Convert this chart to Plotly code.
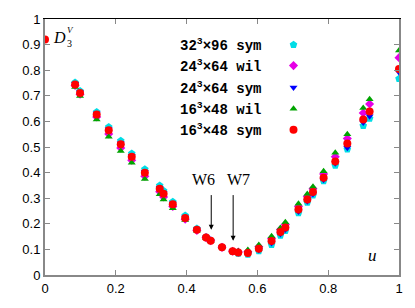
import plotly.graph_objects as go

# ---------------- data ----------------
u_red = [0.0, 0.085, 0.099, 0.146, 0.180, 0.214, 0.245, 0.282, 0.324, 0.335, 0.361, 0.396,
         0.429, 0.455, 0.468, 0.500, 0.530, 0.546, 0.573, 0.604, 0.640, 0.665, 0.679, 0.716,
         0.741, 0.757, 0.787, 0.820, 0.854, 0.899, 0.917, 1.000]
s16_48_sym = [0.920, 0.744, 0.711, 0.627, 0.565, 0.511, 0.462, 0.399, 0.337, 0.317, 0.276, 0.223,
              0.177, 0.146, 0.134, 0.108, 0.093, 0.088, 0.086, 0.103, 0.133, 0.168, 0.186, 0.256,
              0.295, 0.324, 0.380, 0.443, 0.514, 0.607, 0.639, 0.805]

u_other = [0.085, 0.099, 0.146, 0.180, 0.214, 0.245, 0.282, 0.324, 0.335, 0.361, 0.396,
           0.429, 0.455, 0.468, 0.500, 0.530, 0.546, 0.573, 0.604, 0.640, 0.665, 0.679, 0.716,
           0.741, 0.757, 0.787, 0.820, 0.854, 0.899, 0.917, 1.000]
s32_96_sym = [0.752, 0.719, 0.637, 0.578, 0.524, 0.475, 0.413, 0.350, 0.329, 0.286, 0.232,
              0.182, 0.148, 0.136, 0.108, 0.091, 0.084, 0.080, 0.094, 0.118, 0.154, 0.173, 0.242,
              0.283, 0.311, 0.367, 0.428, 0.491, 0.583, 0.611, 0.767]
s24_64_wil = [0.740, 0.706, 0.617, 0.551, 0.496, 0.448, 0.386, 0.325, 0.305, 0.268, 0.218,
              0.174, 0.146, 0.134, 0.108, 0.093, 0.090, 0.091, 0.110, 0.143, 0.178, 0.197, 0.268,
              0.307, 0.337, 0.395, 0.462, 0.533, 0.633, 0.668, 0.849]
s24_64_sym = [0.747, 0.714, 0.631, 0.569, 0.515, 0.466, 0.403, 0.341, 0.321, 0.279, 0.225,
              0.178, 0.146, 0.134, 0.108, 0.092, 0.086, 0.083, 0.098, 0.125, 0.160, 0.178, 0.248,
              0.288, 0.316, 0.372, 0.437, 0.497, 0.596, 0.620, 0.792]
s16_48_wil = [0.734, 0.699, 0.607, 0.540, 0.484, 0.438, 0.375, 0.315, 0.295, 0.261, 0.215,
              0.173, 0.144, 0.132, 0.108, 0.095, 0.093, 0.098, 0.117, 0.151, 0.184, 0.206, 0.278,
              0.316, 0.345, 0.405, 0.478, 0.550, 0.652, 0.687, 0.877]

legend_labels = ["32<sup>3</sup>\u00d796 sym", "24<sup>3</sup>\u00d764 wil", "24<sup>3</sup>\u00d764 sym",
                 "16<sup>3</sup>\u00d748 wil", "16<sup>3</sup>\u00d748 sym"]
x_ticks = [0, 0.2, 0.4, 0.6, 0.8, 1]
x_ticklabels = ["0", "0.2", "0.4", "0.6", "0.8", "1"]
y_ticks = [0, 0.1, 0.2, 0.3, 0.4, 0.5, 0.6, 0.7, 0.8, 0.9, 1]
y_ticklabels = ["0", "0.1", "0.2", "0.3", "0.4", "0.5", "0.6", "0.7", "0.8", "0.9", "1"]

# ---------------- styles ----------------
series = [
    (u_other, s32_96_sym, "#00dde6", "pentagon", 8),
    (u_other, s24_64_wil, "#e600e6", "diamond", 7),
    (u_other, s24_64_sym, "#0000ff", "triangle-down", 7),
    (u_other, s16_48_wil, "#00a400", "triangle-up", 7),
    (u_red, s16_48_sym, "#ff0000", "circle", 8),
]

fig = go.Figure()
for (xs, ys, col, sym, sz), lab in zip(series, legend_labels):
    fig.add_trace(go.Scatter(x=xs, y=ys, mode="markers", name=lab,
                             marker=dict(color=col, symbol=sym, size=sz, line=dict(width=0)),
                             showlegend=False))

# legend keys (gnuplot style: text then symbol), positioned on an overlay axis in [0,1]
key_y = [0.899, 0.818, 0.732, 0.649, 0.567]
for (xs, ys, col, sym, sz), lab, ky in zip(series, legend_labels, key_y):
    fig.add_trace(go.Scatter(x=[0.702], y=[ky], mode="markers", xaxis="x2", yaxis="y2",
                             marker=dict(color=col, symbol=sym, size=sz, line=dict(width=0)),
                             showlegend=False, hoverinfo="skip"))
    fig.add_annotation(x=0.620, y=ky, xref="x2", yref="y2", text="<b>" + lab + "</b>",
                       showarrow=False, xanchor="right", yanchor="middle",
                       font=dict(family="Liberation Mono", size=14, color="black"))

serif = "Liberation Serif"
fig.add_annotation(x=0.066, y=0.927, xref="x", yref="y", text="<i>D</i>", showarrow=False,
                   xanchor="right", font=dict(family=serif, size=16, color="black"))
fig.add_annotation(x=0.056, y=0.958, xref="x", yref="y", text="<i>V</i>", showarrow=False,
                   xanchor="left", font=dict(family=serif, size=9, color="black"))
fig.add_annotation(x=0.057, y=0.903, xref="x", yref="y", text="3", showarrow=False,
                   xanchor="left", font=dict(family=serif, size=10, color="black"))
fig.add_annotation(x=0.924, y=0.075, xref="x", yref="y", text="<i>u</i>", showarrow=False,
                   font=dict(family=serif, size=17, color="black"))

fig.add_annotation(x=0.449, y=0.375, xref="x", yref="y", text="W6", showarrow=False,
                   font=dict(family=serif, size=16, color="black"))
fig.add_annotation(x=0.548, y=0.375, xref="x", yref="y", text="W7", showarrow=False,
                   font=dict(family=serif, size=16, color="black"))
fig.add_annotation(x=0.4696, y=0.177, ax=0.4696, ay=0.318, xref="x", yref="y", axref="x", ayref="y",
                   text="", showarrow=True, arrowhead=2, arrowsize=1, arrowwidth=1, arrowcolor="black")
fig.add_annotation(x=0.5315, y=0.134, ax=0.5315, ay=0.318, xref="x", yref="y", axref="x", ayref="y",
                   text="", showarrow=True, arrowhead=2, arrowsize=1, arrowwidth=1, arrowcolor="black")

tickfont = dict(family="Liberation Sans", size=13, color="black")
fig.update_layout(
    width=415, height=308,
    margin=dict(l=45, r=15, t=14, b=30),
    paper_bgcolor="white", plot_bgcolor="white",
    showlegend=False,
    xaxis=dict(range=[0, 1], tickvals=x_ticks, ticktext=x_ticklabels, ticks="inside", ticklen=5,
               tickcolor="#888888", tickwidth=1, showline=True, linecolor="#888888", linewidth=2,
               mirror=False, showgrid=False, zeroline=False, tickfont=tickfont),
    xaxis2=dict(range=[0, 1], overlaying="x", side="top", anchor="y", tickvals=x_ticks,
                ticks="inside", ticklen=5, tickcolor="#888888", showticklabels=False,
                showline=True, linecolor="black", linewidth=1, showgrid=False, zeroline=False),
    yaxis=dict(range=[0, 1], tickvals=y_ticks, ticktext=y_ticklabels, ticks="inside", ticklen=5,
               tickcolor="#888888", tickwidth=1, showline=True, linecolor="#888888", linewidth=2,
               mirror="ticks", showgrid=False, zeroline=False, tickfont=tickfont),
    yaxis2=dict(range=[0, 1], overlaying="y", visible=False),
)

fig.write_html("out.html", config={"displayModeBar": False},
               post_script="document.body.style.margin='0';document.body.style.overflow='hidden';")
